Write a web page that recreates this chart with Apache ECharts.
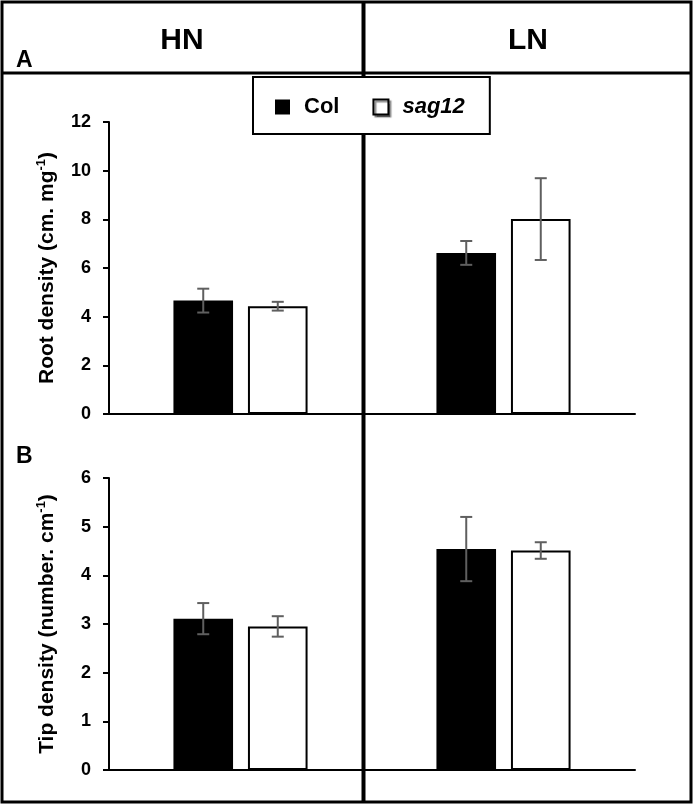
<!DOCTYPE html>
<html><head><meta charset="utf-8">
<script src="https://cdn.jsdelivr.net/npm/echarts@6/dist/echarts.min.js"></script>
<style>html,body{margin:0;padding:0;background:#fff}#c{width:694px;height:806px}</style>
</head><body><div id="c"></div>
<script>
// ---- data ----
const categories = ['HN', 'LN'];
const seriesNames = ['Col', 'sag12'];
const rootCol = [4.66, 6.62];
const rootColErr = [0.49, 0.49];
const rootSag = [4.43, 8.01];
const rootSagErr = [0.18, 1.68];
const tipCol = [3.11, 4.54];
const tipColErr = [0.32, 0.66];
const tipSag = [2.95, 4.51];
const tipSagErr = [0.21, 0.17];
const rootAxis = { min: 0, max: 12, interval: 2 };
const tipAxis = { min: 0, max: 6, interval: 1 };
const panelLabels = ['A', 'B'];

const ARIAL = "'Liberation Sans', Arial, sans-serif";
const CAT_GAP = 0.49, BAR_GAP = 0.25;

const chart = echarts.init(document.getElementById('c'), null, { renderer: 'canvas' });

function yAxis(gi, ax, name) {
  return {
    type: 'value', gridIndex: gi, min: ax.min, max: ax.max, interval: ax.interval,
    splitLine: { show: false },
    axisLine: { show: true, lineStyle: { color: '#000', width: 2 } },
    axisTick: { show: true, length: 6, lineStyle: { color: '#000', width: 2 } },
    axisLabel: { color: '#000', fontWeight: 'bold', fontSize: 18, fontFamily: ARIAL, margin: 18 },
    name: name, nameLocation: 'middle', nameGap: 50, nameRotate: 90,
    nameTextStyle: {
      color: '#000', fontWeight: 'bold', fontSize: 21, fontFamily: ARIAL,
      rich: {
        n: { color: '#000', fontWeight: 'bold', fontSize: 21, fontFamily: ARIAL },
        sup: { color: '#000', fontWeight: 'bold', fontSize: 13, fontFamily: ARIAL, verticalAlign: 'top', lineHeight: 24 }
      }
    }
  };
}
function xAxis(gi) {
  return {
    type: 'category', gridIndex: gi, data: categories,
    axisLine: { show: true, lineStyle: { color: '#000', width: 2 } },
    axisTick: { show: false }, axisLabel: { show: false }, splitLine: { show: false }
  };
}
function barSeries(name, gi, values) {
  const isCol = name === 'Col';
  return {
    type: 'bar', name: name, xAxisIndex: gi, yAxisIndex: gi, data: values,
    barCategoryGap: (CAT_GAP * 100) + '%', barGap: (BAR_GAP * 100) + '%',
    itemStyle: isCol ? { color: '#000' } : { color: '#fff', borderColor: '#000', borderWidth: 2 },
    emphasis: { disabled: true }, silent: true
  };
}
function errSeries(gi, means, errs, side) {
  return {
    type: 'custom', xAxisIndex: gi, yAxisIndex: gi, z: 5, silent: true,
    data: means.map((m, i) => [i, m, errs[i]]),
    renderItem(params, api) {
      const i = api.value(0), m = api.value(1), e = api.value(2);
      const catW = api.size([1, 0])[0];
      const bw = catW * (1 - CAT_GAP) / (2 + BAR_GAP);
      const off = side * bw * (1 + BAR_GAP) / 2;
      const x = api.coord([i, m])[0] + off;
      const yt = api.coord([i, m + e])[1], yb = api.coord([i, m - e])[1];
      const st = { stroke: '#5f5f5f', lineWidth: 2 };
      const cap = 6;
      return { type: 'group', children: [
        { type: 'line', shape: { x1: x, y1: yt, x2: x, y2: yb }, style: st },
        { type: 'line', shape: { x1: x - cap, y1: yt, x2: x + cap, y2: yt }, style: st },
        { type: 'line', shape: { x1: x - cap, y1: yb, x2: x + cap, y2: yb }, style: st }
      ] };
    }
  };
}

const option = {
  backgroundColor: '#fff',
  animation: false,
  grid: [
    { left: 109, top: 122, width: 526, height: 292, containLabel: false },
    { left: 109, top: 478, width: 526, height: 292, containLabel: false }
  ],
  xAxis: [xAxis(0), xAxis(1)],
  yAxis: [
    yAxis(0, rootAxis, '{n|Root density (cm. mg}{sup|-1}{n|)}'),
    yAxis(1, tipAxis, '{n|Tip density (number. cm}{sup|-1}{n|)}')
  ],
  legend: {
    left: 253, top: 77, orient: 'horizontal',
    backgroundColor: '#fff', borderColor: '#000', borderWidth: 2, borderRadius: 0,
    padding: [19, 25, 16, 22],
    itemWidth: 15, itemHeight: 15, itemGap: 33,
    selectedMode: false,
    textStyle: { color: '#000', fontWeight: 'bold', fontSize: 22, fontFamily: ARIAL, padding: [0, 0, 0, 9] },
    data: [
      { name: 'Col', icon: 'rect', itemStyle: { color: '#000', borderWidth: 0 } },
      { name: 'sag12', icon: 'rect', itemStyle: { color: '#fff', borderColor: '#000', borderWidth: 2, shadowColor: 'rgba(0,0,0,0.45)', shadowOffsetX: 2, shadowOffsetY: 2, shadowBlur: 1 },
        textStyle: { fontStyle: 'italic' } }
    ]
  },
  series: [
    barSeries(seriesNames[0], 0, rootCol),
    barSeries(seriesNames[1], 0, rootSag),
    barSeries(seriesNames[0], 1, tipCol),
    barSeries(seriesNames[1], 1, tipSag),
    errSeries(0, rootCol, rootColErr, -1),
    errSeries(0, rootSag, rootSagErr, 1),
    errSeries(1, tipCol, tipColErr, -1),
    errSeries(1, tipSag, tipSagErr, 1)
  ],
  graphic: [
    { type: 'rect', z: 0, shape: { x: 2, y: 2, width: 689, height: 800 }, style: { fill: null, stroke: '#000', lineWidth: 3 } },
    { type: 'line', z: 0, shape: { x1: 2, y1: 73, x2: 691, y2: 73 }, style: { stroke: '#000', lineWidth: 3 } },
    { type: 'line', z: 0, shape: { x1: 363.5, y1: 2, x2: 363.5, y2: 802 }, style: { stroke: '#000', lineWidth: 4 } },
    { type: 'text', z: 1, x: 182, y: 41, style: { text: categories[0], fill: '#000', font: 'bold 30px ' + ARIAL, textAlign: 'center', textVerticalAlign: 'middle' } },
    { type: 'text', z: 1, x: 528, y: 41, style: { text: categories[1], fill: '#000', font: 'bold 30px ' + ARIAL, textAlign: 'center', textVerticalAlign: 'middle' } },
    { type: 'text', z: 1, x: 16, y: 61, style: { text: panelLabels[0], fill: '#000', font: 'bold 23px ' + ARIAL, textAlign: 'left', textVerticalAlign: 'middle' } },
    { type: 'text', z: 1, x: 16, y: 457, style: { text: panelLabels[1], fill: '#000', font: 'bold 23px ' + ARIAL, textAlign: 'left', textVerticalAlign: 'middle' } }
  ]
};
chart.setOption(option);
</script></body></html>
